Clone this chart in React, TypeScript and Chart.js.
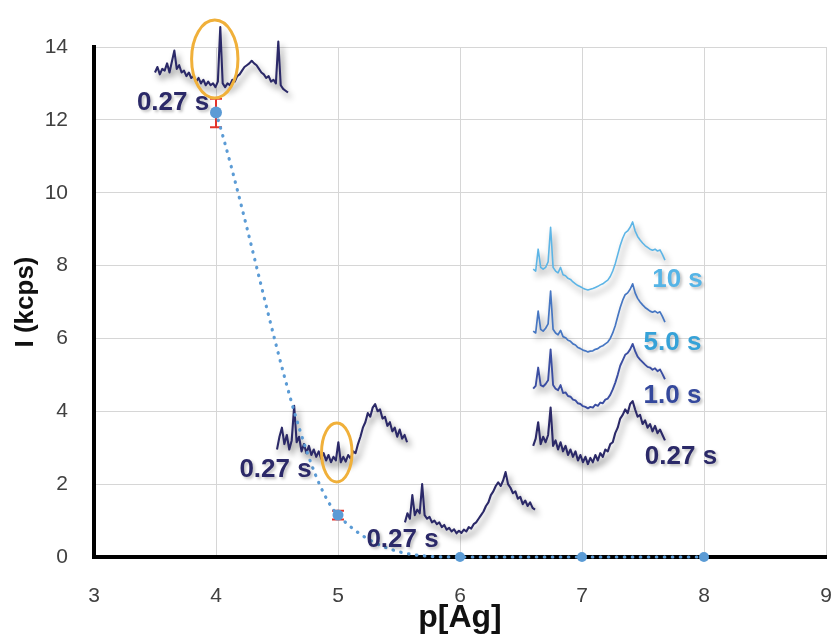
import React, { useEffect, useRef } from 'react';
import { Chart, registerables } from 'chart.js';

Chart.register(...registerables);

// Main series: intensity vs p[Ag]
const pAg = [4, 5, 6, 7, 8];
const intensity = [12.2, 1.15, 0, 0, 0];
const errPlus = [0.38, 0.12, 0, 0, 0];
const errMinus = [0.4, 0.12, 0, 0, 0];
const pointSizes = [6, 5.5, 5, 5, 5];

const xTicks = [3, 4, 5, 6, 7, 8, 9];
const yTicks = [0, 2, 4, 6, 8, 10, 12, 14];

// Inset spectra (drawn in data coordinates): x range [start, end] and y samples
const specTopRange = [3.5, 4.59];
const specTop = [13.3, 13.45, 13.25, 13.4, 13.35, 13.55, 13.3, 13.6, 13.9, 13.4, 13.5, 13.3, 13.35, 13.2, 13.3, 13.15, 13.2, 13.05, 13.15, 13.0, 13.1, 12.95, 13.05, 12.95, 13.0, 12.9, 13.05, 14.55, 13.0, 12.9, 13.0, 12.95, 13.1, 13.05, 13.2, 13.25, 13.35, 13.45, 13.5, 13.55, 13.62, 13.55, 13.5, 13.4, 13.3, 13.25, 13.15, 13.2, 13.05, 13.1, 13.0, 14.15, 12.95, 12.85, 12.8, 12.75];

const specMidRange = [4.5, 5.566];
const specMid = [2.95, 3.3, 3.55, 3.1, 3.35, 2.95, 3.2, 4.15, 3.15, 3.3, 2.9, 3.1, 2.85, 3.05, 2.8, 2.95, 2.75, 2.9, 2.7, 2.85, 2.65, 2.8, 2.6, 2.75, 2.65, 3.15, 2.6, 2.75, 2.62, 2.8, 2.7, 2.9, 2.85, 3.1, 3.3, 3.55, 3.7, 3.95, 3.85, 4.1, 4.2, 4.0, 4.05, 3.8, 3.85, 3.6, 3.7, 3.45, 3.55, 3.3, 3.5, 3.25, 3.35, 3.15];

const specLowRange = [5.549, 6.615];
const specLow = [0.95, 1.2, 1.05, 1.7, 1.15, 1.3, 1.2, 2.0, 1.15, 1.05, 1.1, 0.95, 1.0, 0.9, 0.95, 0.82, 0.88, 0.75, 0.8, 0.7, 0.76, 0.65, 0.72, 0.66, 0.75, 0.7, 0.82, 0.78, 0.9, 0.95, 1.05, 1.15, 1.25, 1.4, 1.5, 1.7, 1.8, 1.95, 2.05, 1.95, 2.1, 2.33, 2.0, 1.9, 1.75, 1.8, 1.6, 1.65, 1.45, 1.55, 1.4, 1.5, 1.35, 1.3];

const specStackRange = [6.6, 7.68];
const spec10s = [7.9, 7.85, 8.45, 7.95, 7.9, 7.95, 8.1, 9.05, 7.95, 7.85, 7.8, 7.95, 7.75, 7.72, 7.65, 7.62, 7.55, 7.5, 7.45, 7.42, 7.38, 7.35, 7.33, 7.35, 7.37, 7.4, 7.43, 7.47, 7.5, 7.55, 7.6, 7.7, 7.85, 8.05, 8.3, 8.55, 8.75, 8.9, 8.95, 9.05, 9.2, 8.95, 8.8, 8.7, 8.62, 8.55, 8.5, 8.45, 8.42, 8.45, 8.4, 8.43, 8.3, 8.15];
const spec5s = [6.2, 6.15, 6.75, 6.25, 6.2, 6.28, 6.4, 7.3, 6.25, 6.15, 6.1, 6.22, 6.05, 6.02, 5.95, 5.92, 5.85, 5.82, 5.75, 5.72, 5.68, 5.66, 5.63, 5.65, 5.66, 5.7, 5.72, 5.77, 5.8, 5.85, 5.9, 6.0, 6.15, 6.35, 6.6, 6.85, 7.05, 7.2, 7.25, 7.35, 7.5, 7.25, 7.1, 7.0, 6.92, 6.85, 6.8, 6.75, 6.72, 6.75, 6.7, 6.73, 6.6, 6.45];
const spec1s = [4.62, 4.7, 5.2, 4.72, 4.68, 4.75, 4.85, 5.7, 4.72, 4.62, 4.58, 4.72, 4.5, 4.52, 4.42, 4.4, 4.32, 4.3, 4.22, 4.2, 4.14, 4.12, 4.08, 4.12, 4.1, 4.18, 4.15, 4.24, 4.22, 4.32, 4.35, 4.45, 4.6, 4.78, 5.0, 5.25, 5.4, 5.55, 5.6, 5.7, 5.85, 5.65, 5.5, 5.42, 5.35, 5.28, 5.22, 5.2, 5.14, 5.18, 5.1, 5.15, 5.02, 4.88];
const spec027s = [3.05, 3.25, 3.7, 3.1, 3.3, 3.15, 3.35, 4.1, 3.05, 3.2, 2.95, 3.15, 2.9, 3.05, 2.8, 2.95, 2.75, 2.9, 2.65, 2.8, 2.6, 2.75, 2.55, 2.72, 2.6, 2.8, 2.65, 2.85, 2.75, 2.95, 2.9, 3.1, 3.15, 3.4, 3.55, 3.8, 3.9, 4.05, 3.95, 4.2, 4.28, 4.05, 3.85, 3.9, 3.65, 3.75, 3.55, 3.65, 3.45, 3.6, 3.4, 3.5, 3.35, 3.2];

// Annotation labels
const labelTexts = ['0.27 s', '0.27 s', '0.27 s', '10 s', '5.0 s', '1.0 s', '0.27 s'];
const labelX = [3.648, 4.488, 5.529, 7.783, 7.742, 7.742, 7.811];
const labelY = [12.46, 2.39, 0.47, 7.6, 5.87, 4.42, 2.745];
const labelColors = ['#2b2968', '#2b2968', '#2b2968', '#55b4e6', '#36a2d8', '#34489c', '#2b2968'];

// Highlight ellipses (centre and radii in data units)
const ellipseX = [3.99, 4.99];
const ellipseY = [13.67, 2.87];
const ellipseRX = [0.19, 0.125];
const ellipseRY = [1.07, 0.81];

const NAVY = '#2b2968';

function toPoints(range: number[], ys: number[]) {
  const n = ys.length;
  return ys.map((y, i) => ({ x: range[0] + ((range[1] - range[0]) * i) / (n - 1), y }));
}

function spectrumDataset(range: number[], ys: number[], color: string, width: number) {
  return {
    type: 'line' as const,
    data: toPoints(range, ys),
    borderColor: color,
    borderWidth: width,
    borderJoinStyle: 'round',
    pointRadius: 0,
    tension: 0,
    clip: false as any,
    isSpectrum: true,
  } as any;
}

const annotPlugin = {
  id: 'annot',
  beforeDatasetDraw(chart: any, args: any) {
    const ds = chart.data.datasets[args.index];
    if (ds && ds.isSpectrum) {
      const ctx = chart.ctx;
      ctx.save();
      ctx.shadowColor = 'rgba(0,0,0,0.45)';
      ctx.shadowBlur = 6;
      ctx.shadowOffsetX = 3;
      ctx.shadowOffsetY = 5;
    }
  },
  afterDatasetDraw(chart: any, args: any) {
    const ds = chart.data.datasets[args.index];
    if (ds && ds.isSpectrum) {
      chart.ctx.restore();
    }
  },
  beforeDatasetsDraw(chart: any) {
    const ctx = chart.ctx;
    const xs = chart.scales.x;
    const ys = chart.scales.y;
    ctx.save();
    ctx.strokeStyle = '#e3342b';
    ctx.lineWidth = 2;
    pAg.forEach((p, i) => {
      if (!errPlus[i] && !errMinus[i]) return;
      const px = xs.getPixelForValue(p);
      const top = ys.getPixelForValue(intensity[i] + errPlus[i]);
      const bot = ys.getPixelForValue(intensity[i] - errMinus[i]);
      ctx.beginPath();
      ctx.moveTo(px, top);
      ctx.lineTo(px, bot);
      ctx.moveTo(px - 6, top);
      ctx.lineTo(px + 6, top);
      ctx.moveTo(px - 6, bot);
      ctx.lineTo(px + 6, bot);
      ctx.stroke();
    });
    ctx.restore();
  },
  afterDatasetsDraw(chart: any) {
    const ctx = chart.ctx;
    const xs = chart.scales.x;
    const ys = chart.scales.y;
    // ellipses
    ctx.save();
    ctx.strokeStyle = '#f0b03a';
    ctx.lineWidth = 3;
    ellipseX.forEach((cx, i) => {
      const px = xs.getPixelForValue(cx);
      const py = ys.getPixelForValue(ellipseY[i]);
      const rx = Math.abs(xs.getPixelForValue(cx + ellipseRX[i]) - px);
      const ry = Math.abs(ys.getPixelForValue(ellipseY[i] + ellipseRY[i]) - py);
      ctx.beginPath();
      ctx.ellipse(px, py, rx, ry, 0, 0, Math.PI * 2);
      ctx.stroke();
    });
    ctx.restore();
    // labels
    ctx.save();
    ctx.font = "bold 26px 'Liberation Sans', Arial, sans-serif";
    ctx.textAlign = 'center';
    ctx.textBaseline = 'middle';
    ctx.shadowColor = 'rgba(0,0,0,0.25)';
    ctx.shadowBlur = 3;
    ctx.shadowOffsetX = 2;
    ctx.shadowOffsetY = 2;
    labelTexts.forEach((t, i) => {
      ctx.fillStyle = labelColors[i];
      ctx.fillText(t, xs.getPixelForValue(labelX[i]), ys.getPixelForValue(labelY[i]));
    });
    ctx.restore();
  },
};

export default function App() {
  const canvasRef = useRef<HTMLCanvasElement | null>(null);

  useEffect(() => {
    if (!canvasRef.current) return;
    const chart = new Chart(canvasRef.current, {
      type: 'line',
      data: {
        datasets: [
          {
            type: 'line',
            data: pAg.map((p, i) => ({ x: p, y: intensity[i] })),
            borderColor: '#5b9bd5',
            borderWidth: 3.2,
            borderDash: [0.5, 7.5],
            borderCapStyle: 'round',
            cubicInterpolationMode: 'monotone',
            pointRadius: pointSizes,
            pointBackgroundColor: '#5b9bd5',
            pointBorderWidth: 0,
            clip: false,
          } as any,
          spectrumDataset(specTopRange, specTop, NAVY, 2.1),
          spectrumDataset(specMidRange, specMid, NAVY, 2.1),
          spectrumDataset(specLowRange, specLow, NAVY, 2.1),
          spectrumDataset(specStackRange, spec10s, '#5db5e6', 1.6),
          spectrumDataset(specStackRange, spec5s, '#4676c2', 1.7),
          spectrumDataset(specStackRange, spec1s, '#3b4ea2', 1.9),
          spectrumDataset(specStackRange, spec027s, NAVY, 2.1),
        ],
      },
      options: {
        responsive: false,
        animation: false,
        events: [],
        layout: { padding: { top: 47, right: 11, bottom: 0, left: 0 } },
        plugins: { legend: { display: false }, tooltip: { enabled: false } },
        scales: {
          x: {
            type: 'linear',
            min: 3,
            max: 9,
            afterBuildTicks: (s: any) => { s.ticks = xTicks.map((v) => ({ value: v })); },
            afterFit: (s: any) => { s.height = 80; },
            grid: { color: '#d6d6d6', lineWidth: 1, drawTicks: true, tickLength: 25, tickColor: 'rgba(0,0,0,0)' },
            border: { display: true, color: '#000', width: 4 },
            ticks: {
              padding: 2,
              color: '#404040',
              font: { family: "'Liberation Sans', Arial, sans-serif", size: 21 },
            },
            title: {
              display: true,
              text: 'p[Ag]',
              color: '#111',
              padding: { top: 0, bottom: 0 },
              font: { family: "'Liberation Sans', Arial, sans-serif", size: 32, weight: 'bold' },
            },
          },
          y: {
            type: 'linear',
            min: 0,
            max: 14,
            afterBuildTicks: (s: any) => { s.ticks = yTicks.map((v) => ({ value: v })); },
            afterFit: (s: any) => { s.width = 94; },
            grid: { color: '#d6d6d6', lineWidth: 1, drawTicks: false },
            border: { display: true, color: '#000', width: 4 },
            ticks: {
              padding: 26,
              color: '#404040',
              font: { family: "'Liberation Sans', Arial, sans-serif", size: 21 },
            },
            title: {
              display: true,
              text: 'I (kcps)',
              color: '#111',
              padding: { top: 10, bottom: 0 },
              font: { family: "'Liberation Sans', Arial, sans-serif", size: 26, weight: 'bold' },
            },
          },
        },
      } as any,
      plugins: [annotPlugin],
    });
    return () => chart.destroy();
  }, []);

  return (
    <div style={{ position: 'fixed', left: 0, top: 0, width: 837, height: 637, background: '#fff' }}>
      <canvas ref={canvasRef} width={837} height={637} />
    </div>
  );
}
